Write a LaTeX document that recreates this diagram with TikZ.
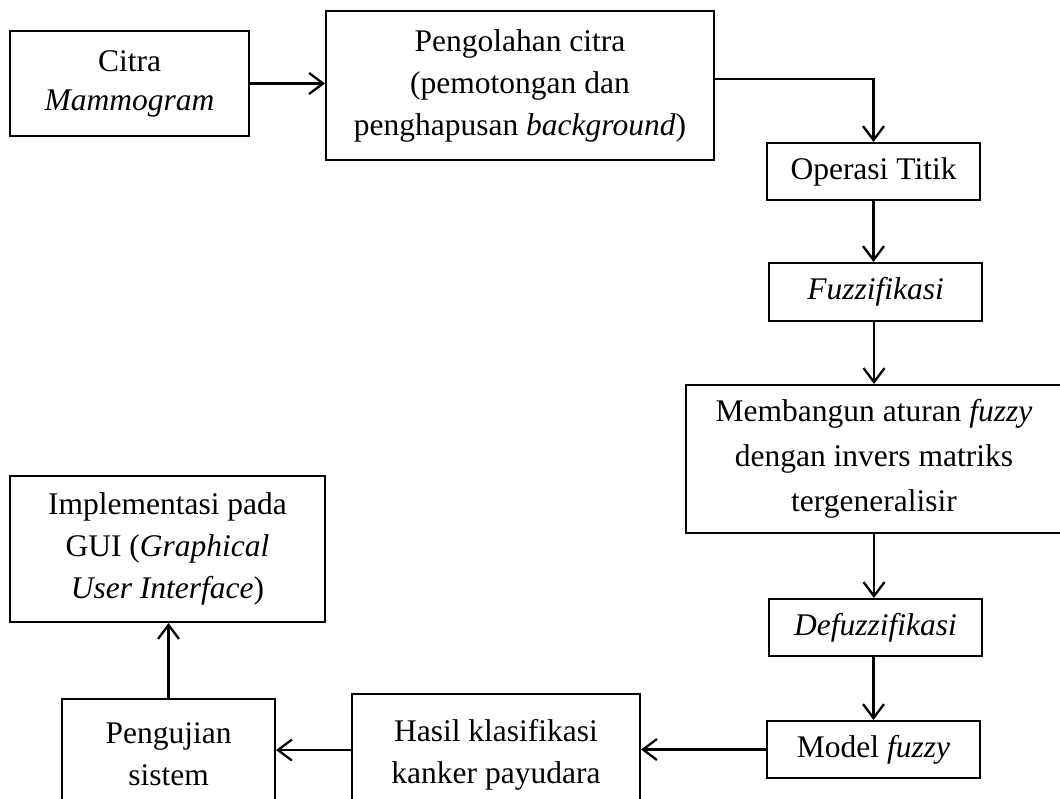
\documentclass[tikz,border=0pt]{standalone}
\usepackage{fontspec}
\setmainfont{Liberation Serif}
\usetikzlibrary{arrows.meta}
\begin{document}
\begin{tikzpicture}[x=1pt,y=-1pt,
  box/.style={draw=black, line width=2pt, rectangle, inner sep=0pt, align=center,
    font=\fontsize{31.5}{42}\selectfont},
  conn/.style={line width=2.3pt, -{Straight Barb[length=14pt,width=21pt,line width=2.3pt]}}]
\useasboundingbox (0,0) rectangle (1060,799);
\clip (0,0) rectangle (1060,799);
\fill[white] (0,0) rectangle (1060,799);
\node[box, minimum width=239pt, minimum height=105pt, font=\fontsize{31.5}{39}\selectfont] (b1) at (129.5,83.5) {Citra\\\textit{Mammogram}};
\node[box, minimum width=388pt, minimum height=149pt] (b2) at (520,85.5) {Pengolahan citra\\(pemotongan dan\\penghapusan \textit{background})};
\node[box, minimum width=213pt, minimum height=57pt] (op) at (873.5,171.5) {Operasi Titik};
\node[box, minimum width=213pt, minimum height=58pt] (fz) at (875.5,292) {\textit{Fuzzifikasi}};
\node[box, minimum width=376pt, minimum height=148pt, font=\fontsize{31.5}{45}\selectfont] (mb) at (874,459) {Membangun aturan \textit{fuzzy}\\dengan invers matriks\\tergeneralisir};
\node[box, minimum width=213pt, minimum height=57pt] (df) at (875.5,627.5) {\textit{Defuzzifikasi}};
\node[box, minimum width=213pt, minimum height=57pt] (md) at (873.5,749.5) {Model \textit{fuzzy}};
\node[box, minimum width=288pt, minimum height=122pt] (hs) at (496,755) {Hasil klasifikasi\\kanker payudara};
\node[box, minimum width=213pt, minimum height=111pt] (pg) at (168.5,754.5) {Pengujian\\sistem};
\node[box, minimum width=315pt, minimum height=146pt] (im) at (167.5,549) {Implementasi pada\\GUI (\textit{Graphical}\\\textit{User Interface})};
\draw[conn] (b1.east) -- (b1.east -| b2.west);
\draw[conn] ([yshift=6.5pt]b2.east) -| (op.north);
\draw[conn] (op.south) -- (op.south |- fz.north);
\draw[conn] (mb.north |- fz.south) -- (mb.north);
\draw[conn] (mb.south) -- (mb.south |- df.north);
\draw[conn] (md.north |- df.south) -- (md.north);
\draw[conn] (md.west) -- (md.west -| hs.east);
\draw[conn] ([yshift=5pt]hs.west) -- ([yshift=5pt]hs.west -| pg.east);
\draw[conn] (pg.north) -- (pg.north |- im.south);
\end{tikzpicture}
\end{document}
